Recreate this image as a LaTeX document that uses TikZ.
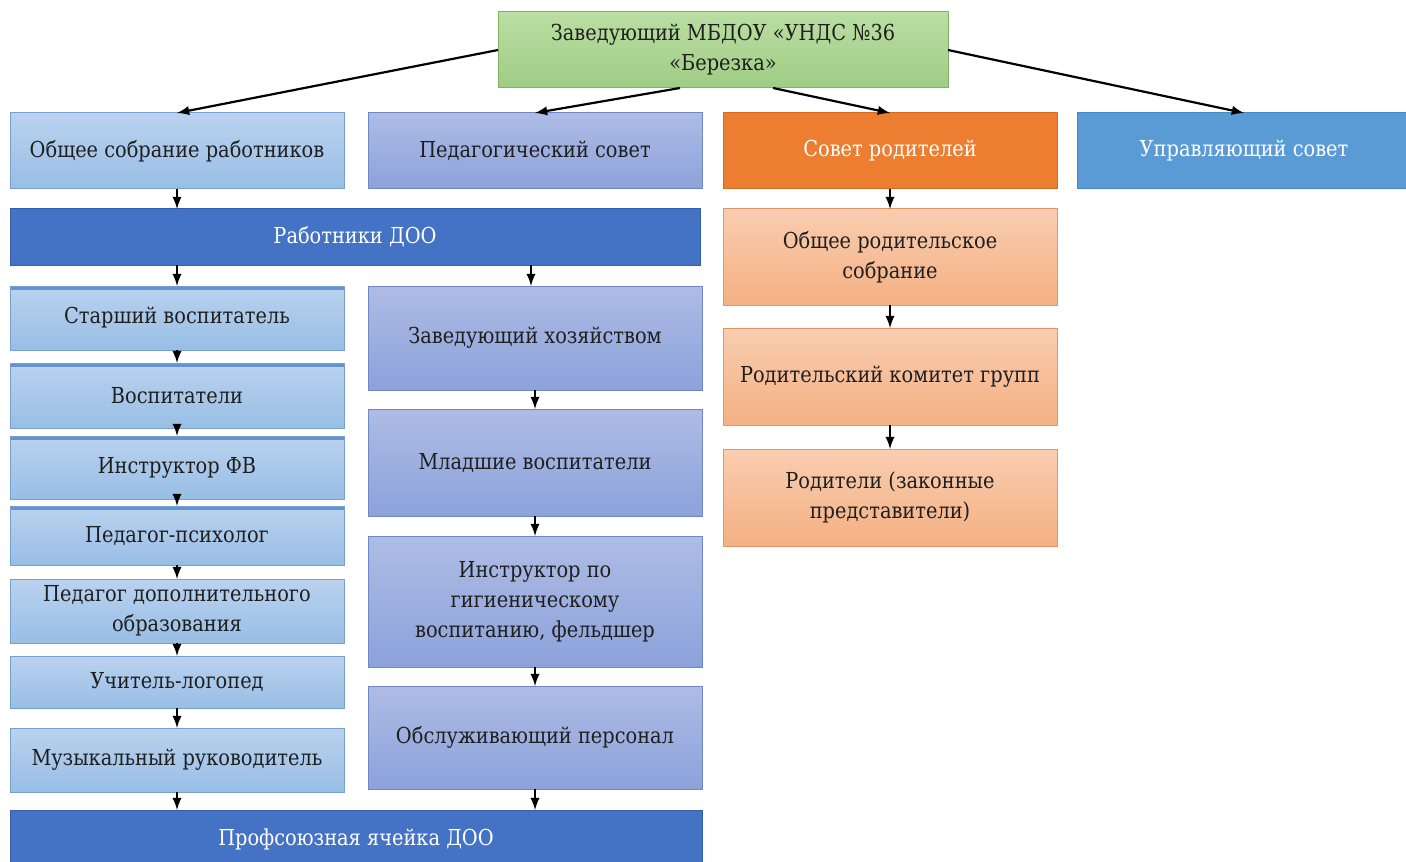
\documentclass[tikz,border=0pt]{standalone}
\usepackage{fontspec}
\setmainfont{DejaVu Serif}
\newfontfamily\boxfont{DejaVu Serif}[FakeStretch=0.88]
\usepackage{tikz}
\usetikzlibrary{positioning}
\tikzset{>=latex}

\definecolor{lbtop}{RGB}{186,210,239}
\definecolor{lbbot}{RGB}{152,190,229}
\definecolor{lbline}{RGB}{120,160,205}
\definecolor{lbband}{RGB}{98,148,210}
\definecolor{mdtop}{RGB}{174,188,229}
\definecolor{mdbot}{RGB}{140,162,218}
\definecolor{mdline}{RGB}{110,135,198}
\definecolor{sltop}{RGB}{249,205,176}
\definecolor{slbot}{RGB}{244,176,131}
\definecolor{slline}{RGB}{230,150,100}
\definecolor{grtop}{RGB}{186,222,163}
\definecolor{grbot}{RGB}{160,204,132}
\definecolor{grline}{RGB}{128,178,98}
\definecolor{orfill}{RGB}{237,125,49}
\definecolor{orline}{RGB}{214,106,34}
\definecolor{blfill}{RGB}{91,155,213}
\definecolor{blline}{RGB}{72,134,196}
\definecolor{dkfill}{RGB}{68,114,196}
\definecolor{dkline}{RGB}{52,95,175}

\tikzset{
  box/.style={rectangle, draw, line width=0.5pt, inner sep=1pt, outer sep=0pt,
    align=center, text=black!88, font=\boxfont\fontsize{11}{15}\selectfont},
  lightbox/.style={box, draw=lbline, top color=lbtop, bottom color=lbbot, minimum width=167pt},
  bandbox/.style={path picture={\fill[lbband] (path picture bounding box.north west)
    rectangle ([yshift=-2pt]path picture bounding box.north east);}},
  midbox/.style={box, draw=mdline, top color=mdtop, bottom color=mdbot, minimum width=167pt},
  salmonbox/.style={box, draw=slline, top color=sltop, bottom color=slbot, minimum width=167pt},
  greenbox/.style={box, draw=grline, top color=grtop, bottom color=grbot, minimum width=225pt, minimum height=38pt},
  orangebox/.style={box, draw=orline, fill=orfill, text=white, minimum width=167pt, minimum height=38pt},
  ubox/.style={box, draw=blline, fill=blfill, text=white, minimum width=167pt, minimum height=38pt},
  darkbox/.style={box, draw=dkline, fill=dkfill, text=white, minimum width=345pt, minimum height=28pt},
  conn/.style={->, line width=1.1pt},
}

\begin{document}
\begin{tikzpicture}[x=0.5pt, y=-0.5pt]
  \useasboundingbox (0,0) rectangle (1406,861);

  % Nodes
  \node[greenbox] (head) at (723,50) {Заведующий МБДОУ «УНДС №36\\«Березка»};
  \node[lightbox, minimum height=38pt] (obs) at (177,151) {Общее собрание работников};
  \node[midbox, minimum height=38pt, right=12pt of obs] (ped) {Педагогический совет};
  \node[orangebox, right=10.5pt of ped] (sovr) {Совет родителей};
  \node[ubox, right=10pt of sovr] (upr) {Управляющий совет};

  \node[darkbox, below=10pt of obs.south west, anchor=north west] (rab) {Работники ДОО};

  % left column
  \node[lightbox, bandbox, minimum height=32pt, below=10.5pt of rab.south west, anchor=north west] (starsh) {Старший воспитатель};
  \node[lightbox, bandbox, minimum height=32.5pt, below=6.5pt of starsh] (vosp) {Воспитатели};
  \node[lightbox, bandbox, minimum height=31.5pt, below=4pt of vosp] (instfv) {Инструктор ФВ};
  \node[lightbox, bandbox, minimum height=29.5pt, below=3.5pt of instfv] (psych) {Педагог-психолог};
  \node[lightbox, minimum height=32pt, below=7pt of psych] (pdo) {Педагог дополнительного\\образования};
  \node[lightbox, minimum height=26pt, below=6.5pt of pdo] (logo) {Учитель-логопед};
  \node[lightbox, minimum height=32pt, below=10pt of logo] (muz) {Музыкальный руководитель};

  % middle column
  \node[midbox, minimum height=52pt, below=48.5pt of ped] (zavh) {Заведующий хозяйством};
  \node[midbox, minimum height=53.5pt, below=9.5pt of zavh] (mlad) {Младшие воспитатели};
  \node[midbox, minimum height=65.5pt, below=10pt of mlad] (gig) {Инструктор по\\гигиеническому\\воспитанию, фельдшер};
  \node[midbox, minimum height=51.5pt, below=9.5pt of gig] (obsl) {Обслуживающий персонал};

  \node[darkbox, minimum width=346pt, minimum height=29pt, below=9pt of muz.south west, anchor=north west] (prof) {Профсоюзная ячейка ДОО};

  % right column
  \node[salmonbox, minimum height=48pt, below=10pt of sovr] (obrs) {Общее родительское\\собрание};
  \node[salmonbox, minimum height=48.5pt, below=11.5pt of obrs] (komit) {Родительский комитет групп};
  \node[salmonbox, minimum height=48.5pt, below=12pt of komit] (rodit) {Родители (законные\\представители)};

  % Edges
  \draw[conn] (head.west) -- (obs.north);
  \draw[conn] ([xshift=-21.5pt]head.south) -- (ped.north);
  \draw[conn] ([xshift=25pt]head.south) -- (sovr.north);
  \draw[conn] (head.east) -- (upr.north);

  \draw[conn] (obs.south) -- (obs.south |- rab.north);
  \draw[conn] (starsh.north |- rab.south) -- (starsh.north);
  \draw[conn] ([xshift=-2pt]zavh.north |- rab.south) -- ([xshift=-2pt]zavh.north);
  \foreach \a/\b in {starsh/vosp, vosp/instfv, instfv/psych, psych/pdo, pdo/logo, logo/muz,
                     zavh/mlad, mlad/gig, gig/obsl, sovr/obrs, obrs/komit, komit/rodit}
    \draw[conn] (\a) -- (\b);
  \draw[conn] (muz.south) -- (muz.south |- prof.north);
  \draw[conn] (obsl.south) -- (obsl.south |- prof.north);

\end{tikzpicture}
\end{document}
